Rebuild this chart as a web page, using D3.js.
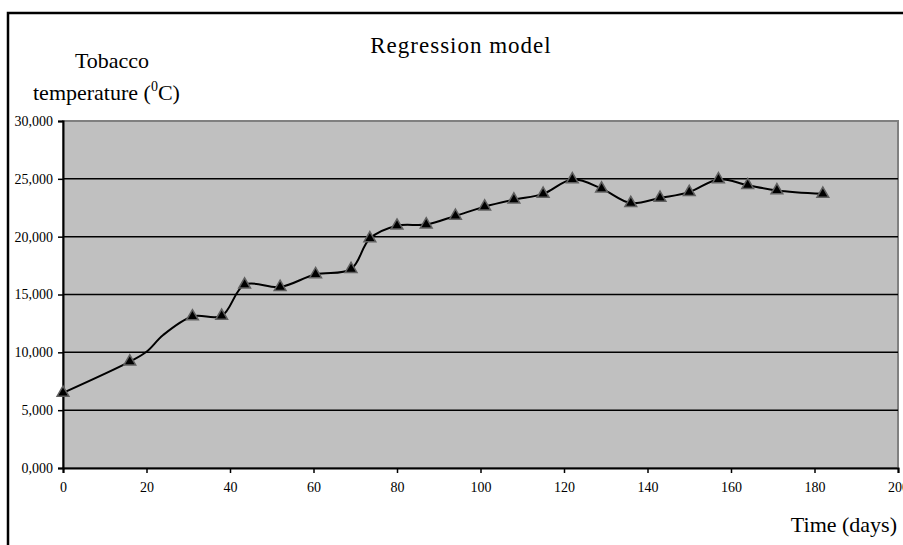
<!DOCTYPE html>
<html>
<head>
<meta charset="utf-8">
<script src="https://cdn.jsdelivr.net/npm/d3@7"></script>
<style>
  body { margin: 0; background: #fff; }
</style>
</head>
<body>
<script>
// chart size
var w = 903;
var h = 545;
var serif = "'Liberation Serif', 'Times New Roman', serif";

// measured points (triangles)
var days = [0, 16, 31, 38, 43.5, 52, 60.5, 69, 73.5, 80, 87, 94, 101, 108, 115, 122, 129, 136, 143, 150, 157, 164, 171, 182];
var temps = [6500, 9200, 13100, 13150, 15850, 15650, 16750, 17200, 19850, 20950, 21050, 21800, 22600, 23200, 23700, 24950, 24150, 22900, 23350, 23850, 24950, 24450, 24000, 23700];

// extra bends of the regression curve
var bendDays = [20, 24];
var bendTemps = [10050, 11500];

var xTicks = [0, 20, 40, 60, 80, 100, 120, 140, 160, 180, 200];
var yTicks = [0, 5000, 10000, 15000, 20000, 25000, 30000];
var yTickLabels = ["0,000", "5,000", "10,000", "15,000", "20,000", "25,000", "30,000"];

var svg = d3.select("body")
		.append("svg")
		.attr("width", w)
		.attr("height", h);

// outer chart frame (runs off the right and bottom edge)
svg.append("rect")
		.attr("x", 8)
		.attr("y", 13)
		.attr("width", 1000)
		.attr("height", 600)
		.attr("fill", "#fff")
		.attr("stroke", "#000")
		.attr("stroke-width", 2.5);

var x = d3.scaleLinear().domain([0, 200]).range([63, 898]);
var y = d3.scaleLinear().domain([0, 30000]).range([468, 121]);

// plot area
svg.append("rect")
		.attr("x", x(0))
		.attr("y", y(30000))
		.attr("width", x(200) - x(0))
		.attr("height", y(0) - y(30000))
		.attr("fill", "#c0c0c0")
		.attr("stroke", "#808080")
		.attr("stroke-width", 2);

// gridlines
svg.selectAll("line.grid")
		.data(yTicks.slice(1, -1))
		.enter()
		.append("line")
		.attr("class", "grid")
		.attr("x1", x(0))
		.attr("x2", x(200))
		.attr("y1", function(d) { return y(d); })
		.attr("y2", function(d) { return y(d); })
		.attr("stroke", "#000")
		.attr("stroke-width", 1.5);

var yAxis = svg.append("g")
		.attr("transform", "translate(" + x(0) + ",0)")
		.call(d3.axisLeft(y).tickValues(yTicks).tickSize(5).tickPadding(5)
			.tickFormat(function(d, i) { return yTickLabels[i]; }));

var xAxis = svg.append("g")
		.attr("transform", "translate(0," + y(0) + ")")
		.call(d3.axisBottom(x).tickValues(xTicks).tickSize(5).tickPadding(9));

[xAxis, yAxis].forEach(function(g) {
	g.attr("font-family", null);
	g.select(".domain").attr("stroke", "#000").attr("stroke-width", 2);
	g.selectAll(".tick line").attr("stroke", "#000").attr("stroke-width", 1.5);
	g.selectAll(".tick text")
			.style("font-family", serif)
			.style("font-size", "14px")
			.attr("fill", "#000");
});

// regression curve
var pts = days.map(function(d, i) { return [d, temps[i]]; })
		.concat(bendDays.map(function(d, i) { return [d, bendTemps[i]]; }))
		.sort(function(a, b) { return a[0] - b[0]; });

var line = d3.line()
		.x(function(d) { return x(d[0]); })
		.y(function(d) { return y(d[1]); })
		.curve(d3.curveCatmullRom.alpha(0.5));

svg.append("path")
		.datum(pts)
		.attr("d", line)
		.attr("fill", "none")
		.attr("stroke", "#000")
		.attr("stroke-width", 2);

// triangle markers
svg.selectAll("path.mark")
		.data(days)
		.enter()
		.append("path")
		.attr("class", "mark")
		.attr("d", d3.symbol().type(d3.symbolTriangle).size(60))
		.attr("transform", function(d, i) {
			return "translate(" + x(d) + "," + y(temps[i]) + ")";
		})
		.attr("fill", "#000")
		.attr("stroke", "#606060")
		.attr("stroke-width", 1.5);

// titles
function label(tx, ty, anchor, size) {
	return svg.append("text")
			.attr("x", tx)
			.attr("y", ty)
			.attr("text-anchor", anchor)
			.style("font-family", serif)
			.style("font-size", size)
			.attr("fill", "#000");
}

label(461, 53, "middle", "23px")
		.attr("letter-spacing", "1px")
		.text("Regression model");

label(112, 68, "middle", "22px").text("Tobacco");

var t2 = label(33, 100, "start", "22px");
t2.append("tspan").text("temperature (");
t2.append("tspan").style("font-size", "14px").attr("dy", -9).text("0");
t2.append("tspan").attr("dy", 9).text("C)");

label(897, 532, "end", "22px").text("Time (days)");
</script>
</body>
</html>
